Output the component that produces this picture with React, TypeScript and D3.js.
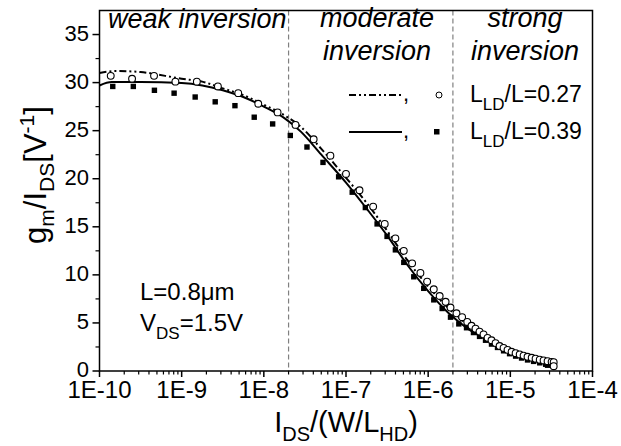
import React from "react";
import * as d3 from "d3";

// open circles: L_LD/L = 0.27
const circX = [1.37e-10, 2.49e-10, 4.61e-10, 8.39e-10, 1.53e-9, 2.76e-9, 4.88e-9, 8.55e-9, 1.47e-8, 2.43e-8, 4.04e-8, 6.46e-8, 1.0e-7, 1.46e-7, 2.14e-7, 2.96e-7, 3.99e-7, 5.05e-7, 6.38e-7, 8.05e-7, 9.72e-7, 1.17e-6, 1.38e-6, 1.63e-6, 1.87e-6, 2.21e-6, 2.59e-6, 2.99e-6, 3.37e-6, 3.77e-6, 4.22e-6, 4.72e-6, 5.28e-6, 5.9e-6, 6.61e-6, 7.4e-6, 8.28e-6, 9.25e-6, 1.035e-5, 1.16e-5, 1.3e-5, 1.45e-5, 1.62e-5, 1.82e-5, 2.03e-5, 2.28e-5, 2.54e-5, 2.84e-5, 3.18e-5, 3.37e-5, 3.37e-5];
const circY = [30.7, 30.4, 30.7, 30.1, 30.1, 29.6, 28.9, 27.8, 26.9, 25.6, 24.1, 22.4, 20.5, 18.8, 17.1, 15.3, 13.8, 12.5, 11.2, 10.2, 9.3, 8.5, 7.8, 7.2, 6.6, 6.0, 5.6, 5.1, 4.7, 4.4, 4.1, 3.8, 3.45, 3.2, 2.9, 2.6, 2.4, 2.2, 2.0, 1.85, 1.72, 1.6, 1.48, 1.38, 1.28, 1.18, 1.1, 1.02, 0.95, 0.92, 0.5];

// filled squares: L_LD/L = 0.39
const sqX = [1.45e-10, 2.58e-10, 4.66e-10, 8.09e-10, 1.46e-9, 2.56e-9, 4.45e-9, 7.64e-9, 1.28e-8, 2.1e-8, 3.35e-8, 5.25e-8, 8.13e-8, 1.19e-7, 1.72e-7, 2.39e-7, 3.16e-7, 3.99e-7, 5.05e-7, 6.68e-7, 8.83e-7, 1.17e-6, 1.48e-6, 1.87e-6, 2.36e-6, 2.93e-6, 3.56e-6, 4.22e-6, 4.99e-6, 5.9e-6, 6.98e-6, 8.28e-6, 9.79e-6, 1.16e-5, 1.37e-5, 1.62e-5, 1.92e-5, 2.28e-5, 2.69e-5, 2.84e-5];
const sqY = [29.6, 29.6, 29.2, 28.9, 28.5, 28.0, 27.6, 26.4, 25.7, 24.5, 23.3, 21.7, 20.2, 18.6, 17.0, 15.3, 14.0, 12.6, 11.3, 9.8, 8.6, 7.4, 6.5, 5.6, 4.9, 4.5, 4.0, 3.6, 3.2, 2.8, 2.45, 2.1, 1.8, 1.55, 1.35, 1.15, 1.0, 0.85, 0.7, 0.6];

// model curves
const solidX = [1e-10, 1.41e-10, 3.16e-10, 1e-9, 1.78e-9, 3.16e-9, 5.62e-9, 1e-8, 1.78e-8, 2.82e-8, 5.01e-8, 1e-7, 1.78e-7, 3.16e-7, 5.62e-7, 1e-6, 1.78e-6, 3.16e-6, 5.62e-6, 1e-5, 1.78e-5, 2.82e-5];
const solidY = [29.7, 30.05, 30.05, 29.95, 29.7, 29.2, 28.5, 27.5, 26.3, 24.9, 22.5, 19.6, 16.9, 14.1, 11.0, 8.3, 6.0, 4.3, 3.1, 2.1, 1.35, 0.8];
const dashX = [1e-10, 1.58e-10, 3.16e-10, 6.31e-10, 1e-9, 1.78e-9, 3.16e-9, 5.62e-9, 1e-8, 1.78e-8, 2.82e-8, 5.01e-8, 1e-7, 1.78e-7, 3.16e-7, 5.62e-7, 1e-6, 1.78e-6, 3.16e-6, 5.62e-6, 1e-5, 1.78e-5, 3.16e-5];
const dashY = [31.0, 31.2, 31.1, 30.7, 30.4, 30.1, 29.4, 28.7, 27.7, 26.6, 25.4, 23.1, 20.1, 17.5, 14.6, 11.5, 8.8, 6.5, 4.7, 3.4, 2.3, 1.5, 0.9];

const xMajor = [1e-10, 1e-9, 1e-8, 1e-7, 1e-6, 1e-5, 1e-4];
const xLabels = ["1E-10", "1E-9", "1E-8", "1E-7", "1E-6", "1E-5", "1E-4"];
const yMajor = [0, 5, 10, 15, 20, 25, 30, 35];
const regionBounds = [2e-8, 2e-6];

const FONT = "'Liberation Sans', Arial, Helvetica, sans-serif";

export default function App() {
  const W = 621, H = 446;
  const x = d3.scaleLog().domain([1e-10, 1e-4]).range([99.5, 592.5]);
  const y = d3.scaleLinear().domain([0, 37.5]).range([371, 10.5]);
  const x0 = x.range()[0], x1 = x.range()[1];
  const y0 = y.range()[0], y1 = y.range()[1];

  const xMinor: number[] = [];
  for (let e = -10; e < -4; e++) for (let k = 2; k <= 9; k++) xMinor.push(k * Math.pow(10, e));
  const yMinor: number[] = [];
  for (let v = 2.5; v < 37.5; v += 5) yMinor.push(v);

  const line = d3.line<[number, number]>().x((d) => x(d[0])).y((d) => y(d[1])).curve(d3.curveMonotoneX);
  const solidPath = line(solidX.map((v, i) => [v, solidY[i]]) as [number, number][]) || "";
  const dashPath = line(dashX.map((v, i) => [v, dashY[i]]) as [number, number][]) || "";

  return (
    <svg width={W} height={H} style={{ position: "absolute", left: 0, top: 0, background: "#fff" }} fontFamily={FONT}>
      <rect x={0} y={0} width={W} height={H} fill="#fff" />
      {/* region separators */}
      {regionBounds.map((b, i) => (
        <line key={i} x1={x(b)} x2={x(b)} y1={y1} y2={y0} stroke="#808080" strokeWidth={1.2} strokeDasharray="5,3" />
      ))}
      {/* curves */}
      <path d={dashPath} fill="none" stroke="#000" strokeWidth={2} strokeDasharray="7,3,2,3,2,3" />
      <path d={solidPath} fill="none" stroke="#000" strokeWidth={2} />
      {/* squares */}
      {sqX.map((v, i) => (
        <rect key={"s" + i} x={x(v) - 2.7} y={y(sqY[i]) - 2.7} width={5.4} height={5.4} fill="#000" />
      ))}
      {/* circles */}
      {circX.map((v, i) => (
        <circle key={"c" + i} cx={x(v)} cy={y(circY[i])} r={3.4} fill="#fff" stroke="#000" strokeWidth={1.1} />
      ))}
      {/* frame */}
      <rect x={x0} y={y1} width={x1 - x0} height={y0 - y1} fill="none" stroke="#000" strokeWidth={1.5} />
      {/* x ticks */}
      {xMajor.map((t, i) => (
        <g key={"xt" + i}>
          <line x1={x(t)} x2={x(t)} y1={y0} y2={y0 + 6} stroke="#000" strokeWidth={1.5} />
          <text x={x(t)} y={398} fontSize={24} textAnchor="middle" fill="#000">{xLabels[i]}</text>
        </g>
      ))}
      {xMinor.map((t, i) => (
        <line key={"xm" + i} x1={x(t)} x2={x(t)} y1={y0} y2={y0 + 3.5} stroke="#000" strokeWidth={1.2} />
      ))}
      {/* y ticks */}
      {yMajor.map((t, i) => (
        <g key={"yt" + i}>
          <line x1={x0 - 7} x2={x0} y1={y(t)} y2={y(t)} stroke="#000" strokeWidth={1.5} />
          <text x={89} y={y(t) + 6} fontSize={22} textAnchor="end" fill="#000">{t}</text>
        </g>
      ))}
      {yMinor.map((t, i) => (
        <line key={"ym" + i} x1={x0 - 4} x2={x0} y1={y(t)} y2={y(t)} stroke="#000" strokeWidth={1.2} />
      ))}
      {/* region labels */}
      <g fontStyle="italic" fontSize={27} fill="#000">
        <text x={108} y={28}>weak inversion</text>
        <text x={377} y={27} textAnchor="middle">moderate</text>
        <text x={377} y={60} textAnchor="middle">inversion</text>
        <text x={525} y={27} textAnchor="middle">strong</text>
        <text x={525} y={60} textAnchor="middle">inversion</text>
      </g>
      {/* legend */}
      <line x1={349} x2={402} y1={95} y2={95} stroke="#000" strokeWidth={2} strokeDasharray="7,3,2,3,2,3" />
      <text x={403} y={101} fontSize={22} fill="#000">,</text>
      <circle cx={439} cy={95} r={3} fill="#fff" stroke="#000" strokeWidth={1} />
      <text x={470} y={102} fontSize={23} fill="#000">L<tspan fontSize={17} dy={8}>LD</tspan><tspan dy={-8}>/L=0.27</tspan></text>
      <line x1={349} x2={402} y1={132} y2={132} stroke="#000" strokeWidth={2} />
      <text x={403} y={138} fontSize={22} fill="#000">,</text>
      <rect x={434} y={129} width={5.5} height={5.5} fill="#000" />
      <text x={470} y={139} fontSize={23} fill="#000">L<tspan fontSize={17} dy={8}>LD</tspan><tspan dy={-8}>/L=0.39</tspan></text>
      {/* annotation */}
      <text x={140} y={300} fontSize={24} fill="#000">L=0.8μm</text>
      <text x={140} y={331} fontSize={24} fill="#000">V<tspan fontSize={17} dy={8}>DS</tspan><tspan dy={-8}>=1.5V</tspan></text>
      {/* axis titles */}
      <text x={346} y={432} fontSize={29} textAnchor="middle" fill="#000">I<tspan fontSize={20} dy={9}>DS</tspan><tspan dy={-9}>/(W/L</tspan><tspan fontSize={20} dy={9}>HD</tspan><tspan dy={-9}>)</tspan></text>
      <text transform="translate(46,175) rotate(-90)" fontSize={31} textAnchor="middle" fill="#000">g<tspan fontSize={21} dy={8}>m</tspan><tspan dy={-8}>/I</tspan><tspan fontSize={21} dy={8}>DS</tspan><tspan dy={-8}>[V</tspan><tspan fontSize={21} dy={-12}>-1</tspan><tspan dy={12}>]</tspan></text>
    </svg>
  );
}
